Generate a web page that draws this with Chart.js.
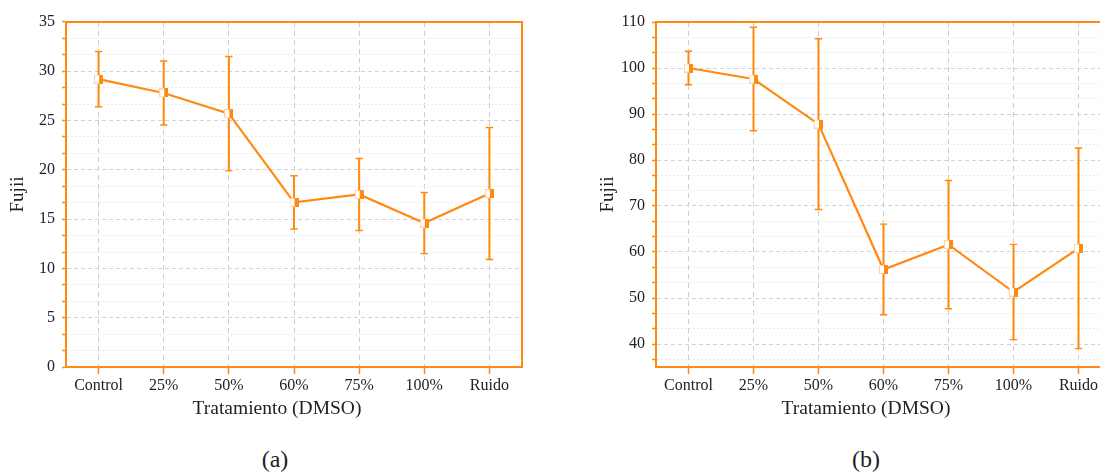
<!DOCTYPE html>
<html>
<head>
<meta charset="utf-8">
<script src="https://cdn.jsdelivr.net/npm/chart.js@4/dist/chart.umd.min.js"></script>
<style>
  html, body { margin: 0; padding: 0; width: 1100px; height: 473px; overflow: hidden; background: #fff; }
  canvas { position: absolute; top: 0; }
  .xtitle, .caption {
    position: absolute; width: 300px; text-align: center; white-space: nowrap;
    font-family: "Liberation Serif", serif; color: #222;
  }
  .xtitle { top: 398px; font-size: 19.5px; line-height: 20px; }
  .caption { top: 447px; font-size: 24px; line-height: 24px; }
</style>
</head>
<body>
<canvas id="chartA" width="550" height="400" style="left:0px"></canvas>
<canvas id="chartB" width="560" height="400" style="left:580px"></canvas>
<div class="xtitle" style="left:127px">Tratamiento (DMSO)</div>
<div class="xtitle" style="left:716px">Tratamiento (DMSO)</div>
<div class="caption" style="left:125px">(a)</div>
<div class="caption" style="left:716px">(b)</div>
<script>
// Treatments on the x axis
const categories = ['Control', '25%', '50%', '60%', '75%', '100%', 'Ruido'];

// Panel (a): mean Fujii value and error half-width per treatment
const meanA = [29.2, 27.8, 25.7, 16.7, 17.5, 14.6, 17.6];
const errA  = [2.8, 3.25, 5.8, 2.7, 3.65, 3.1, 6.7];

// Panel (b): mean Fujii value (relative to control) and error half-width
const meanB = [100.0, 97.6, 87.8, 56.2, 61.6, 51.3, 60.8];
const errB  = [3.65, 11.25, 18.55, 9.85, 13.95, 10.35, 21.8];

// Labelled y ticks
const yTicksA = [0, 5, 10, 15, 20, 25, 30, 35];
const yTicksB = [40, 50, 60, 70, 80, 90, 100, 110];

const ORANGE = '#ff8a12';
Chart.defaults.font.family = '"Liberation Serif", serif';
Chart.defaults.color = '#222';

// Half-open square marker: outlined left half, filled right half
function makeMarker() {
  const c = document.createElement('canvas');
  c.width = 9; c.height = 9;
  const g = c.getContext('2d');
  g.fillStyle = '#ffffff';
  g.fillRect(0, 0, 9, 9);
  g.strokeStyle = '#ffd2a2';
  g.lineWidth = 1;
  g.strokeRect(0.5, 0.5, 8, 8);
  g.fillStyle = ORANGE;
  g.fillRect(5, 0, 4, 9);
  return c;
}
const marker = makeMarker();

// Orange frame on the top and right edges of the plot area
const framePlugin = {
  id: 'frame',
  afterDraw(chart) {
    const { ctx, chartArea: a } = chart;
    ctx.save();
    ctx.strokeStyle = ORANGE;
    ctx.lineWidth = 2;
    ctx.beginPath();
    ctx.moveTo(a.left - 1, Math.round(a.top));
    ctx.lineTo(Math.round(a.right), Math.round(a.top));
    ctx.lineTo(Math.round(a.right), a.bottom + 1);
    ctx.stroke();
    ctx.restore();
  }
};

function withMinorTicks(majors, min, max) {
  const step = (majors[1] - majors[0]) / 3;
  const vals = [];
  for (let v = majors[0]; v >= min - 1e-9; v -= step) vals.push(v);
  for (let v = majors[0] + step; v <= max + 1e-9; v += step) vals.push(v);
  return vals.sort((p, q) => p - q);
}

function buildChart(id, mean, err, yMin, yMax, majors, yWidth, padRight, titlePad) {
  const lo = mean.map((m, i) => m - err[i]);
  const hi = mean.map((m, i) => m + err[i]);
  const isMajor = v => majors.some(m => Math.abs(m - v) < 1e-6);
  const capStyle = {
    type: 'line', showLine: false, pointStyle: 'line', pointRadius: 3.7,
    pointBorderWidth: 1.4, pointBorderColor: ORANGE, pointBackgroundColor: ORANGE, order: 2
  };
  return new Chart(document.getElementById(id), {
    type: 'line',
    data: {
      labels: categories,
      datasets: [
        { type: 'bar', data: lo.map((l, i) => [l, hi[i]]), backgroundColor: ORANGE,
          barThickness: 1.4, grouped: false, order: 3 },
        Object.assign({ data: hi }, capStyle),
        Object.assign({ data: lo }, capStyle),
        { type: 'line', data: mean, borderColor: ORANGE, borderWidth: 2.2, tension: 0,
          pointStyle: marker, pointRadius: 5, order: 1 }
      ]
    },
    options: {
      responsive: false,
      animation: false,
      events: [],
      layout: { padding: { top: 22, right: padRight, bottom: 0, left: 0 } },
      plugins: { legend: { display: false }, tooltip: { enabled: false } },
      scales: {
        x: {
          type: 'category',
          offset: true,
          afterFit: s => { s.height = 33; },
          grid: {
            offset: false, color: '#cccccc', lineWidth: 1,
            tickLength: 7, tickColor: ORANGE, tickWidth: 1.5, tickBorderDash: []
          },
          border: { color: ORANGE, width: 2, dash: [5, 4] },
          ticks: { font: { size: 16 }, color: '#222', padding: 2, autoSkip: false, maxRotation: 0 }
        },
        y: {
          min: yMin, max: yMax,
          afterFit: s => { s.width = yWidth; },
          afterBuildTicks: s => { s.ticks = withMinorTicks(majors, yMin, yMax).map(v => ({ value: v })); },
          grid: {
            color: c => (c.tick && isMajor(c.tick.value)) ? '#d2d2d2' : '#ebebeb',
            lineWidth: 1,
            tickLength: 4, tickColor: ORANGE, tickWidth: 1.5, tickBorderDash: []
          },
          border: {
            color: ORANGE, width: 2,
            dash: c => (c.tick && isMajor(c.tick.value)) ? [4, 3] : [2, 2]
          },
          ticks: {
            font: { size: 16 }, color: '#222', padding: 7, autoSkip: false,
            callback: v => isMajor(v) ? String(Math.round(v)) : ''
          },
          title: {
            display: true, text: 'Fujii', color: '#222',
            font: { size: 19 }, padding: { top: titlePad, bottom: 0 }
          }
        }
      }
    },
    plugins: [framePlugin]
  });
}

buildChart('chartA', meanA, errA, 0, 35, yTicksA, 66, 28, 7);
buildChart('chartB', meanB, errB, 35, 110, yTicksB, 76, 29, 16.5);
</script>
</body>
</html>
